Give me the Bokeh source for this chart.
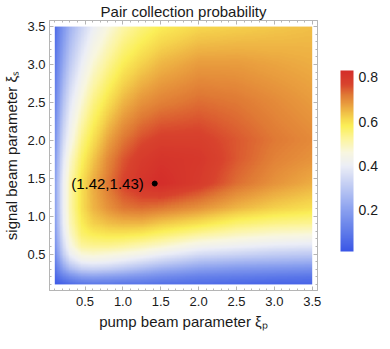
import numpy as np
from bokeh.plotting import figure
from bokeh.models import (LinearColorMapper, ColorBar, FixedTicker, LinearAxis,
                          SingleIntervalTicker, NumeralTickFormatter, Range1d)
from bokeh.core.properties import value
from bokeh.embed import file_html
from bokeh.resources import INLINE

# ---------------- data ----------------
title_text = "Pair collection probability"
x_label = "pump beam parameter ξₚ"
y_label = "signal beam parameter ξₛ"

# grid positions of the read values
xi_p = [0.1, 0.2, 0.3, 0.45, 0.6, 0.8, 1.0, 1.25, 1.5, 2.0, 2.5, 3.0, 3.5]
xi_s = [0.1, 0.2, 0.3, 0.4, 0.5, 0.6, 0.75, 0.9, 1.1, 1.43, 1.75, 2.0, 2.5, 3.0, 3.5]

# probability values, one list per signal-parameter row (xi_s), across xi_p
row_s010 = [0.03, 0.05, 0.07, 0.09, 0.10, 0.10, 0.09, 0.09, 0.08, 0.07, 0.06, 0.05, 0.05]
row_s020 = [0.06, 0.12, 0.16, 0.20, 0.21, 0.20, 0.19, 0.17, 0.15, 0.12, 0.11, 0.10, 0.09]
row_s030 = [0.09, 0.20, 0.27, 0.32, 0.33, 0.32, 0.30, 0.27, 0.24, 0.20, 0.18, 0.17, 0.16]
row_s040 = [0.12, 0.26, 0.35, 0.41, 0.42, 0.41, 0.39, 0.36, 0.33, 0.28, 0.26, 0.25, 0.24]
row_s050 = [0.15, 0.31, 0.41, 0.47, 0.48, 0.47, 0.46, 0.44, 0.41, 0.36, 0.34, 0.32, 0.31]
row_s060 = [0.17, 0.34, 0.45, 0.52, 0.53, 0.53, 0.52, 0.50, 0.48, 0.43, 0.41, 0.39, 0.38]
row_s075 = [0.19, 0.37, 0.48, 0.56, 0.58, 0.59, 0.59, 0.58, 0.56, 0.52, 0.49, 0.47, 0.46]
row_s090 = [0.20, 0.39, 0.50, 0.58, 0.62, 0.64, 0.65, 0.65, 0.63, 0.60, 0.56, 0.54, 0.53]
row_s110 = [0.21, 0.40, 0.51, 0.60, 0.65, 0.69, 0.72, 0.73, 0.72, 0.69, 0.65, 0.62, 0.60]
row_s143 = [0.21, 0.40, 0.51, 0.60, 0.66, 0.72, 0.77, 0.81, 0.83, 0.79, 0.73, 0.69, 0.66]
row_s175 = [0.19, 0.37, 0.48, 0.57, 0.63, 0.70, 0.75, 0.79, 0.81, 0.80, 0.75, 0.71, 0.69]
row_s200 = [0.17, 0.34, 0.44, 0.54, 0.60, 0.67, 0.72, 0.76, 0.78, 0.78, 0.75, 0.72, 0.70]
row_s250 = [0.13, 0.28, 0.38, 0.47, 0.54, 0.60, 0.65, 0.69, 0.71, 0.73, 0.72, 0.70, 0.68]
row_s300 = [0.10, 0.22, 0.31, 0.40, 0.47, 0.53, 0.58, 0.62, 0.65, 0.68, 0.68, 0.67, 0.66]
row_s350 = [0.07, 0.17, 0.25, 0.33, 0.40, 0.46, 0.51, 0.55, 0.58, 0.61, 0.62, 0.63, 0.64]

value_low = 0.014
value_high = 0.83

peak_p = [1.42]
peak_s = [1.43]
peak_text = ["(1.42,1.43)"]

colorbar_ticks = [0.2, 0.4, 0.6, 0.8]

# ---------------- styling ----------------
FONT = "Liberation Sans"
TXT = "#1a1a1a"
FRAME = "#b5b5b5"

# TemperatureMap-like gradient, colour stops placed at probability values
stop_vals = [0.014, 0.10, 0.20, 0.30, 0.40, 0.46, 0.52, 0.58, 0.62, 0.67, 0.72, 0.77, 0.83]
stop_cols = ["#3a56e6", "#5f7be9", "#8aa0ef", "#bcc8f3", "#eceef6", "#f8f6e0",
             "#fcf5a0", "#fbef58", "#f5d24c", "#eba540", "#e07a35", "#d8432d", "#d42e2a"]


def hex_rgb(h):
    return [int(h[i:i + 2], 16) for i in (1, 3, 5)]


rgb = np.array([hex_rgb(c) for c in stop_cols], dtype=float)
vv = np.linspace(value_low, value_high, 256)
palette = ["#%02x%02x%02x" % tuple(int(round(np.interp(v, stop_vals, rgb[:, k]))) for k in range(3))
           for v in vv]

# ---------------- field for display ----------------
Z = np.array([row_s010, row_s020, row_s030, row_s040, row_s050, row_s060, row_s075,
              row_s090, row_s110, row_s143, row_s175, row_s200, row_s250, row_s300, row_s350])
fx = np.linspace(xi_p[0], xi_p[-1], 341)
fy = np.linspace(xi_s[0], xi_s[-1], 341)
tmp = np.array([np.interp(fx, xi_p, r) for r in Z])
field = np.array([np.interp(fy, xi_s, tmp[:, j]) for j in range(len(fx))]).T

mapper = LinearColorMapper(palette=palette, low=value_low, high=value_high)

p = figure(frame_width=268, frame_height=270,
           x_range=Range1d(0.03, 3.57), y_range=Range1d(0.02, 3.58),
           output_backend="svg", toolbar_location=None,
           min_border_left=44, min_border_right=62, min_border_top=19, min_border_bottom=44,
           title=title_text)

p.image(image=[field], x=xi_p[0], y=xi_s[0], dw=xi_p[-1] - xi_p[0], dh=xi_s[-1] - xi_s[0],
        color_mapper=mapper)

p.scatter(x=peak_p, y=peak_s, size=5, color="black")
p.text(x=peak_p, y=peak_s, text=peak_text, text_align="right", text_baseline="middle",
       x_offset=-11, text_font=value(FONT), text_font_size="15px", text_color="black")

p.title.text_font = FONT
p.title.text_font_size = "15px"
p.title.text_font_style = "normal"
p.title.text_color = TXT
p.title.align = "center"
p.title.standoff = 1

p.xgrid.visible = False
p.ygrid.visible = False
p.outline_line_color = FRAME
p.background_fill_color = "white"
p.border_fill_color = "white"


def style_axis(ax, show_labels=True):
    ax.ticker = SingleIntervalTicker(interval=0.5, num_minor_ticks=5)
    ax.formatter = NumeralTickFormatter(format="0.0")
    ax.axis_line_color = FRAME
    ax.major_tick_line_color = FRAME
    ax.minor_tick_line_color = FRAME
    ax.major_tick_in = 4
    ax.major_tick_out = 0
    ax.minor_tick_in = 2
    ax.minor_tick_out = 0
    ax.major_label_text_font = FONT
    if show_labels:
        ax.major_label_text_font_size = "13px"
        ax.major_label_text_color = TXT
    else:
        ax.major_label_text_font_size = "1px"
        ax.major_label_text_color = None
    ax.axis_label_text_font = FONT
    ax.axis_label_text_font_size = "15px"
    ax.axis_label_text_font_style = "normal"
    ax.axis_label_text_color = TXT


xa = p.xaxis[0]
ya = p.yaxis[0]
style_axis(xa)
style_axis(ya)
xa.axis_label = x_label
ya.axis_label = y_label
xa.major_label_standoff = 6
xa.axis_label_standoff = 4
ya.major_label_standoff = 4
ya.axis_label_standoff = 4

top_ax = LinearAxis()
style_axis(top_ax, show_labels=False)
top_ax.major_label_standoff = 0
p.add_layout(top_ax, "above")

right_ax = LinearAxis()
style_axis(right_ax, show_labels=False)
right_ax.major_label_standoff = 0
p.add_layout(right_ax, "right")

cb = ColorBar(color_mapper=mapper, location=(291, 39), width=13, height=181,
              padding=0, margin=0,
              ticker=FixedTicker(ticks=colorbar_ticks),
              formatter=NumeralTickFormatter(format="0.0"),
              major_label_text_font=FONT, major_label_text_font_size="14px",
              major_label_text_color=TXT, label_standoff=5,
              major_tick_line_color=None, minor_tick_line_color=None,
              bar_line_color=None, border_line_color=None,
              background_fill_color=None)
p.add_layout(cb)

open("out.html", "w").write(file_html(p, INLINE))
